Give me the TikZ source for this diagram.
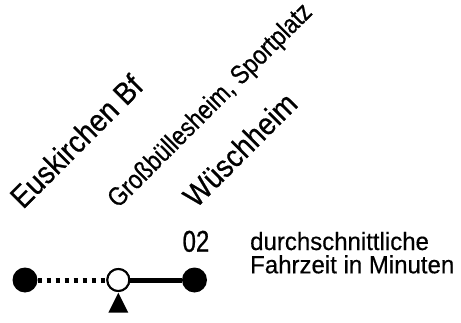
\documentclass[tikz,border=0pt]{standalone}
\usepackage{fontspec}
\setmainfont{Liberation Sans}
\newfontfamily\labfont[FakeStretch=0.9,FakeBold=0.6]{Liberation Sans}
\newfontfamily\smlfont[FakeStretch=0.86,FakeBold=0.6]{Liberation Sans}
\newfontfamily\numfont[FakeStretch=0.8,FakeBold=0.8]{Liberation Sans}
\newfontfamily\legfont[FakeStretch=0.96,FakeBold=0.4]{Liberation Sans}
\begin{document}
\begin{tikzpicture}[x=1pt,y=1pt,
  stopfull/.style={circle,fill=black,inner sep=0pt,minimum size=25pt},
  stopopen/.style={circle,draw=black,fill=white,line width=2pt,inner sep=0pt,minimum size=22pt},
  dotline/.style={line width=5pt,dash pattern=on 4.5pt off 4.5pt},
  solidline/.style={line width=5pt},
  biglabel/.style={anchor=base west,rotate=45,inner sep=0pt,font=\labfont\fontsize{31}{36}\selectfont},
  smalllabel/.style={anchor=base west,rotate=45,inner sep=0pt,font=\smlfont\fontsize{26.5}{32}\selectfont},
  legtext/.style={anchor=base west,inner sep=0pt,font=\legfont\fontsize{25}{30}\selectfont}]
\useasboundingbox[fill=white] (0,0) rectangle (461,322);
\node[stopfull] (s1) at (25,42) {};
\node[stopopen] (s2) at (118.3,42) {};
\node[stopfull] (s3) at (194.5,42) {};
\draw[dotline] (s1) -- (s2);
\draw[solidline] (s2) -- (s3);
\node[stopopen] at (s2) {};
\fill (s2.south) ++(0,-0.7) -- ++(10,-20) -- ++(-20,0) -- cycle;
\node[biglabel] (l1) at (23,112) {Euskirchen Bf};
\node[smalllabel] (l2) at (118,113) {Großbüllesheim, Sportplatz};
\node[biglabel] (l3) at (196,113) {Wüschheim};
\node[anchor=base east,inner sep=0pt,font=\numfont\fontsize{30}{34}\selectfont] (num) at (209.5,70.3) {02};
\node[legtext] (leg1) at (250,72) {durchschnittliche};
\node[legtext] (leg2) at (250,48.7) {Fahrzeit in Minuten};
\end{tikzpicture}
\end{document}
